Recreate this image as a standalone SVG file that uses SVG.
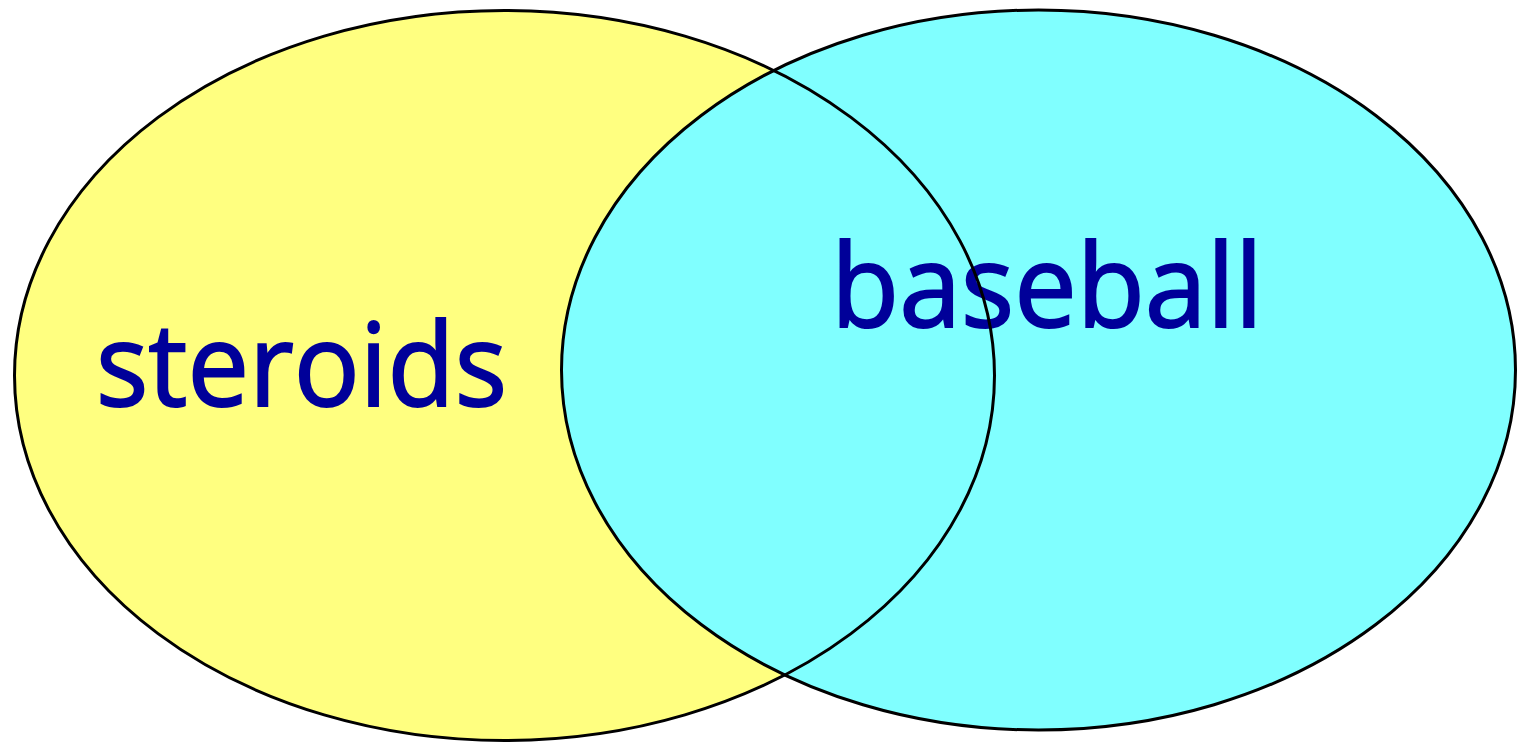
<svg xmlns="http://www.w3.org/2000/svg" width="1517" height="742" viewBox="0 0 1517 742">
<style>
.lbl{font-family:"Open Sans","DejaVu Sans",sans-serif;font-size:115px;fill:#000099;stroke:#000099;stroke-width:2}
.outline{fill:none;stroke:#000;stroke-width:3}
</style>
<rect width="1517" height="742" fill="#fff"/>
<g id="node-steroids">
<ellipse cx="504.5" cy="375.5" rx="490" ry="365" fill="#FFFF80"/>
<text class="lbl" x="96" y="406" textLength="411" lengthAdjust="spacingAndGlyphs">steroids</text>
</g>
<g id="node-baseball">
<ellipse cx="1038.5" cy="370" rx="477" ry="360" fill="#80FFFF"/>
<text class="lbl" x="831" y="327" textLength="432" lengthAdjust="spacingAndGlyphs">baseball</text>
</g>
<g id="connectors"></g>
<g id="outlines">
<ellipse class="outline" cx="504.5" cy="375.5" rx="490" ry="365"/>
<ellipse class="outline" cx="1038.5" cy="370" rx="477" ry="360"/>
</g>
</svg>
